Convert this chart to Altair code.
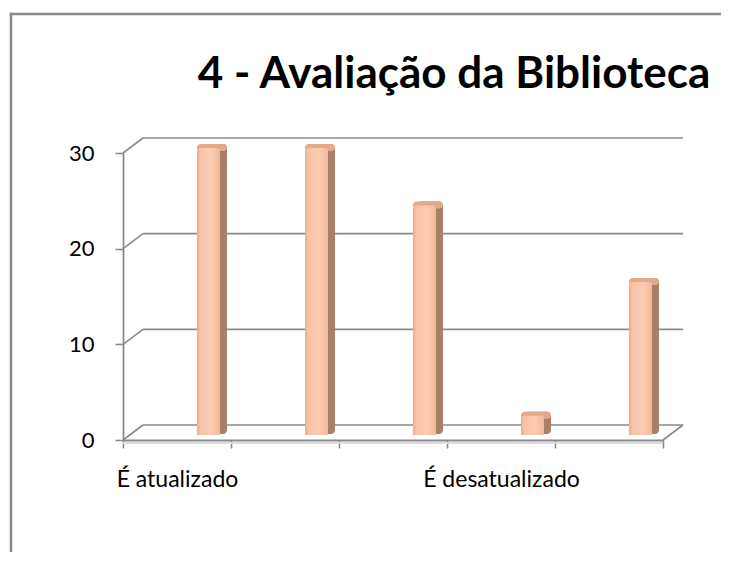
import json
import altair as alt
import pandas as pd

title_text = "4 - Avaliação da Biblioteca"
categories = ["É atualizado", "", "", "É desatualizado", ""]
values = [30, 30, 24, 2, 16]
y_ticks = [0, 10, 20, 30]

df = pd.DataFrame({"idx": list(range(len(values))), "value": values})
grid_df = pd.DataFrame({"v": y_ticks})
one = pd.DataFrame({"a": [0]})

W, H = 540, 287
N = len(values)
xs = alt.Scale(domain=[0, N], nice=False, zero=False)
ys = alt.Scale(domain=[0, 30], nice=False, zero=True)
GRID = "#8a8a8a"
DX, DY = 20, -15
FONT = "Lato"
PAD = {"left": 115, "top": 145, "right": 58, "bottom": 112}

label_expr = "(" + json.dumps(categories, ensure_ascii=False) + ")[datum.value] || ''"

x_axis = alt.Axis(
    values=list(range(N + 1)),
    tickSize=8, tickColor=GRID, tickWidth=1.6,
    domainColor=GRID, domainWidth=1.8,
    labelExpr=label_expr, labelOffset=54, labelPadding=20,
    labelFont=FONT, labelFontSize=23, labelColor="#000000",
    labelOverlap=False, labelFlush=False, labelBound=False,
    grid=False, title=None,
)
y_axis = alt.Axis(
    values=y_ticks,
    tickSize=8, tickColor=GRID, tickWidth=1.6,
    domainColor=GRID, domainWidth=1.8,
    labelPadding=21, labelFont=FONT, labelFontSize=22, labelColor="#000000",
    grid=False, title=None,
)

# outer chart frame (left and top edges), drawn as thin filled rects
frame_left = alt.Chart(one).mark_rect(color=GRID).encode(
    x=alt.value(-113.25), x2=alt.value(-110.75),
    y=alt.value(-140.25), y2=alt.value(H + PAD["bottom"]),
)
frame_top = alt.Chart(one).mark_rect(color=GRID).encode(
    x=alt.value(-113.25), x2=alt.value(W + PAD["right"]),
    y=alt.value(-140.25), y2=alt.value(-137.75),
)

back_grid = alt.Chart(grid_df).mark_rule(
    color=GRID, strokeWidth=1.6, xOffset=DX, x2Offset=DX, yOffset=DY
).encode(
    x=alt.XDatum(0, type="quantitative", scale=xs, axis=x_axis),
    x2=alt.X2Datum(N),
    y=alt.Y("v:Q", scale=ys, axis=y_axis),
)

diag_left = alt.Chart(grid_df).mark_rule(
    color=GRID, strokeWidth=1.6, x2Offset=DX, y2Offset=DY
).encode(
    x=alt.XDatum(0, type="quantitative", scale=xs, axis=x_axis),
    x2=alt.X2Datum(0),
    y=alt.Y("v:Q", scale=ys, axis=y_axis),
    y2=alt.Y2("v:Q"),
)

diag_right = alt.Chart(one).mark_rule(
    color=GRID, strokeWidth=1.6, x2Offset=DX, y2Offset=DY
).encode(
    x=alt.XDatum(N, type="quantitative", scale=xs, axis=x_axis),
    x2=alt.X2Datum(N),
    y=alt.YDatum(0, type="quantitative", scale=ys, axis=y_axis),
    y2=alt.Y2Datum(0),
)

# light shadow under the front x axis line
axis_shadow = alt.Chart(one).mark_rule(color="#dcdcdc", strokeWidth=2, yOffset=3).encode(
    x=alt.XDatum(0, type="quantitative", scale=xs, axis=x_axis),
    x2=alt.X2Datum(N),
    y=alt.YDatum(0, type="quantitative", scale=ys, axis=y_axis),
)

bars_base = alt.Chart(df).transform_calculate(
    xa="datum.idx + 0.685",
    xb="datum.idx + 0.898",
    xs0="datum.idx + 0.72",
    xc="datum.idx + 0.963",
)

side = bars_base.mark_bar(color="#A8806A", cornerRadius=4, yOffset=-9, y2Offset=-6).encode(
    x=alt.X("xs0:Q", scale=xs, axis=x_axis),
    x2="xc:Q",
    y=alt.Y("value:Q", scale=ys, axis=y_axis),
    y2=alt.Y2Datum(0),
)

cap = bars_base.mark_bar(color="#E3A98B", cornerRadius=4, yOffset=-9, y2Offset=-2).encode(
    x=alt.X("xa:Q", scale=xs, axis=x_axis),
    x2="xc:Q",
    y=alt.Y("value:Q", scale=ys, axis=y_axis),
    y2="value:Q",
)

front_fill = alt.Gradient(
    gradient="linear",
    x1=0, x2=1, y1=0, y2=0,
    stops=[
        alt.GradientStop(color="#E9AD90", offset=0),
        alt.GradientStop(color="#F8C3A5", offset=0.15),
        alt.GradientStop(color="#FBCCB2", offset=0.6),
        alt.GradientStop(color="#F3BA9B", offset=1),
    ],
)

front = bars_base.mark_bar(
    color=front_fill, cornerRadiusTopLeft=3, cornerRadiusTopRight=3, yOffset=-5, y2Offset=-5
).encode(
    x=alt.X("xa:Q", scale=xs, axis=x_axis),
    x2="xb:Q",
    y=alt.Y("value:Q", scale=ys, axis=y_axis),
    y2=alt.Y2Datum(0),
)

title = alt.Chart(one).mark_text(
    text=title_text, font=FONT, fontWeight="bold", fontSize=44,
    align="center", baseline="alphabetic", color="#000000",
).encode(x=alt.value(331), y=alt.value(-65))

chart = alt.layer(
    axis_shadow, back_grid, diag_left, diag_right, side, cap, front, frame_left, frame_top, title
).properties(
    width=W,
    height=H,
    autosize=alt.AutoSizeParams(type="none"),
    padding=PAD,
    background="white",
).configure_view(stroke=None)

chart.save("out.html", embed_options={"renderer": "svg", "actions": False})
